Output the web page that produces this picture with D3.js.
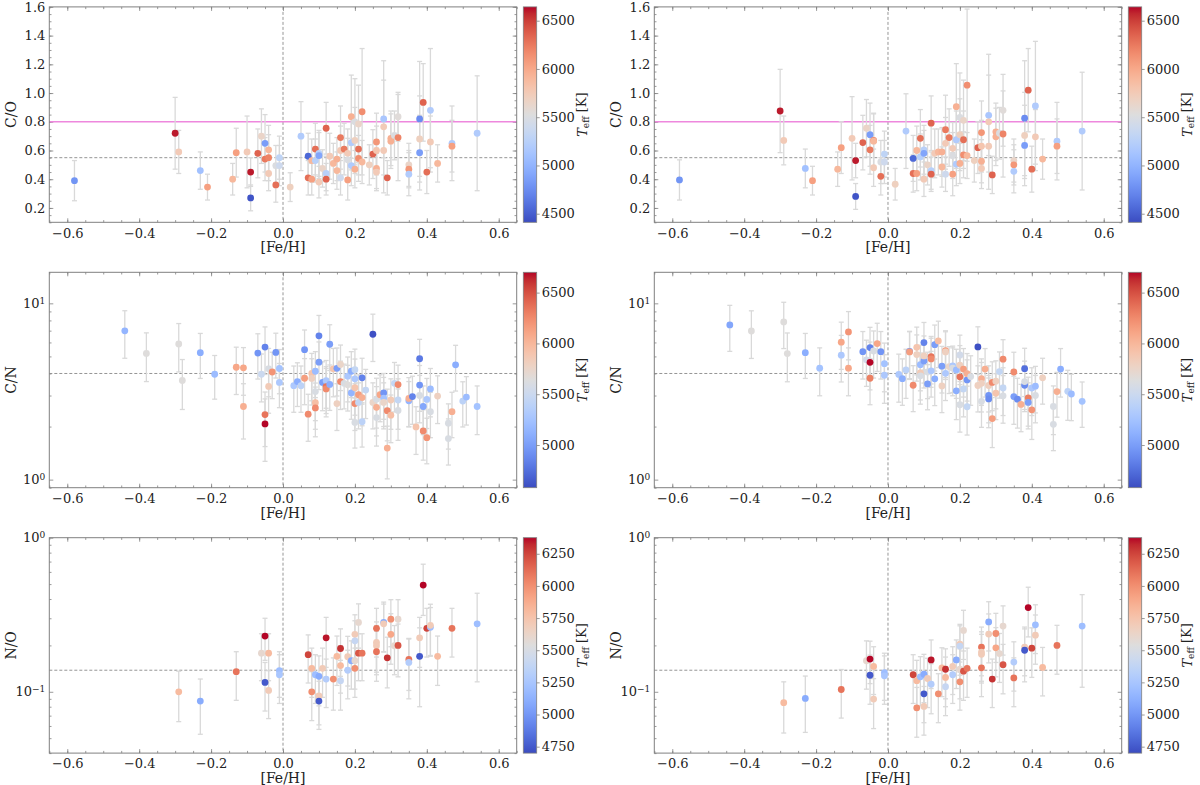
<!DOCTYPE html>
<html>
<head>
<meta charset="utf-8">
<script src="https://cdn.jsdelivr.net/npm/d3@7"></script>
<style>
  body { margin: 0; background: #fff; }
  text { font-family: "DejaVu Serif", serif; fill: #222; }
</style>
</head>
<body>
<script>
// ---------- row 1 : C/O (same stars in both columns) ----------
const fehCO  = [-0.58,-0.30,-0.29,-0.23,-0.21,-0.14,-0.13,-0.10,-0.09,-0.09,-0.07,-0.06,-0.05,-0.05,-0.04,-0.04,-0.04,-0.02,-0.02,-0.01,-0.01,0.02,0.05,0.07,0.07,0.08,0.08,0.09,0.09,0.10,0.10,0.10,0.11,0.12,0.12,0.12,0.13,0.14,0.15,0.15,0.16,0.16,0.16,0.17,0.18,0.18,0.18,0.19,0.19,0.19,0.20,0.20,0.20,0.21,0.21,0.21,0.22,0.22,0.24,0.25,0.26,0.26,0.26,0.26,0.28,0.28,0.28,0.29,0.30,0.30,0.31,0.32,0.32,0.35,0.35,0.35,0.38,0.38,0.38,0.39,0.40,0.41,0.41,0.43,0.47,0.47,0.54];
const teffCO = [4800,6600,5750,5100,6050,5900,6050,5750,6600,4450,6350,5650,4850,6250,6200,5900,5750,6300,5500,5400,5300,5700,5200,4550,6300,6050,5900,6300,5250,5250,4900,5750,5650,6350,5250,6350,5750,5900,5950,5900,6250,5750,5400,6250,5750,5500,6050,5950,5200,5200,5500,5700,5950,5650,6300,6150,6150,5900,5700,6350,6100,5800,5950,5750,5150,5750,5750,6350,5950,5950,5500,5550,6200,5650,6100,5200,4750,5700,4850,6350,6300,5200,5750,5900,5200,6050,5200];
const coLeft = [0.39,0.72,0.59,0.46,0.345,0.40,0.585,0.59,0.45,0.27,0.58,0.70,0.65,0.54,0.55,0.605,0.44,0.36,0.495,0.495,0.55,0.345,0.70,0.56,0.41,0.40,0.53,0.61,0.53,0.58,0.565,0.38,0.475,0.755,0.44,0.40,0.56,0.51,0.54,0.46,0.69,0.60,0.41,0.61,0.58,0.535,0.395,0.835,0.655,0.495,0.80,0.67,0.47,0.785,0.61,0.545,0.87,0.52,0.50,0.575,0.66,0.60,0.475,0.45,0.82,0.765,0.60,0.41,0.685,0.665,0.705,0.835,0.69,0.50,0.47,0.435,0.82,0.68,0.585,0.935,0.45,0.88,0.66,0.51,0.65,0.63,0.72];
const coLeftErr = [0.14,0.25,0.15,0.13,0.09,0.11,0.17,0.25,0.10,0.09,0.17,0.19,0.20,0.15,0.16,0.17,0.12,0.12,0.14,0.14,0.15,0.10,0.24,0.16,0.12,0.11,0.15,0.18,0.15,0.16,0.16,0.11,0.13,0.18,0.12,0.11,0.16,0.14,0.15,0.13,0.22,0.17,0.12,0.18,0.17,0.15,0.14,0.29,0.19,0.14,0.30,0.23,0.13,0.27,0.18,0.16,0.44,0.15,0.14,0.17,0.20,0.17,0.14,0.13,0.27,0.46,0.17,0.12,0.19,0.19,0.17,0.17,0.30,0.15,0.13,0.15,0.40,0.30,0.26,0.27,0.15,0.43,0.18,0.13,0.26,0.18,0.40];
const coRight = [0.395,0.875,0.67,0.475,0.39,0.47,0.62,0.685,0.53,0.28,0.655,0.755,0.71,0.605,0.67,0.665,0.48,0.42,0.52,0.52,0.575,0.365,0.735,0.545,0.44,0.44,0.60,0.685,0.555,0.605,0.58,0.40,0.50,0.79,0.46,0.435,0.58,0.59,0.59,0.485,0.745,0.65,0.435,0.69,0.615,0.565,0.435,0.905,0.675,0.505,0.83,0.71,0.51,0.81,0.675,0.57,1.055,0.565,0.53,0.62,0.725,0.63,0.525,0.475,0.845,0.80,0.63,0.43,0.73,0.695,0.72,0.88,0.715,0.53,0.50,0.455,0.825,0.705,0.635,1.02,0.47,0.91,0.695,0.54,0.665,0.63,0.735];
const coRightErr = [0.14,0.29,0.17,0.135,0.10,0.12,0.18,0.29,0.12,0.09,0.19,0.20,0.22,0.17,0.19,0.19,0.13,0.13,0.15,0.15,0.16,0.11,0.26,0.16,0.13,0.12,0.17,0.20,0.16,0.17,0.16,0.12,0.14,0.19,0.13,0.12,0.17,0.16,0.17,0.14,0.24,0.18,0.12,0.20,0.18,0.16,0.15,0.30,0.20,0.15,0.31,0.25,0.14,0.28,0.20,0.16,0.53,0.16,0.15,0.18,0.22,0.18,0.15,0.14,0.28,0.47,0.18,0.13,0.20,0.20,0.18,0.25,0.30,0.15,0.14,0.15,0.40,0.30,0.28,0.29,0.16,0.45,0.19,0.14,0.27,0.19,0.41];

// ---------- row 2 : C/N ----------
const fehCNLeft  = [-0.44,-0.38,-0.29,-0.28,-0.23,-0.19,-0.13,-0.11,-0.11,-0.07,-0.06,-0.05,-0.05,-0.05,-0.04,-0.04,-0.03,-0.02,-0.01,-0.01,0.03,0.04,0.05,0.06,0.06,0.07,0.08,0.08,0.09,0.09,0.09,0.09,0.10,0.10,0.11,0.12,0.12,0.12,0.13,0.13,0.14,0.15,0.15,0.16,0.16,0.17,0.18,0.18,0.19,0.19,0.20,0.20,0.20,0.20,0.20,0.21,0.21,0.22,0.22,0.22,0.23,0.25,0.25,0.26,0.26,0.26,0.27,0.28,0.28,0.28,0.29,0.29,0.30,0.30,0.31,0.32,0.32,0.32,0.35,0.35,0.36,0.37,0.38,0.38,0.38,0.39,0.39,0.40,0.40,0.41,0.41,0.43,0.46,0.46,0.47,0.48,0.50,0.51,0.54];
const teffCNLeft = [5150,5650,5650,5650,5100,5200,6100,6100,6050,4950,5500,4850,6350,6700,5600,5850,6200,4950,5250,5300,5300,5100,5400,4950,6150,6250,5900,5800,5200,5600,5950,6250,4850,5000,5000,5300,6350,6250,5000,5100,5900,5000,5800,6250,5750,5600,5300,5650,5100,5150,5450,5300,5900,6250,5600,6150,5450,4850,6050,5400,5450,4600,5750,5600,6050,5600,6100,4950,5250,5750,6250,6050,5850,5950,5450,6250,5450,5600,5150,6050,4850,5900,4800,4950,5600,5050,6250,5300,6200,5200,5600,5800,5600,5600,6050,5100,5400,5200,5250];
const cnLeft     = [6.98,5.2,5.88,3.65,5.25,3.96,4.34,4.31,2.6,5.22,3.96,5.65,2.34,2.07,4.25,3.38,4.08,5.27,4.27,3.56,3.41,3.6,3.41,5.46,3.76,2.35,4.0,3.75,4.12,3.16,2.73,2.55,6.54,4.64,3.56,3.64,3.37,3.27,5.86,3.47,4.25,4.28,2.7,3.6,4.5,3.52,3.86,3.45,4.12,3.1,4.2,3.73,3.32,2.7,2.11,3.03,2.74,3.78,2.92,2.13,3.22,6.68,2.74,2.86,2.57,2.25,3.03,3.1,2.9,2.74,2.46,1.51,2.83,2.32,3.52,3.46,2.83,2.47,2.8,2.89,2.96,1.99,4.85,3.44,3.0,2.6,1.89,2.85,1.73,3.27,2.43,2.98,2.09,1.71,2.43,4.48,2.79,2.94,2.6];
const cnLeftErr  = [2.1,1.6,1.8,1.15,1.5,1.1,1.3,1.3,0.9,1.5,1.2,1.7,0.8,0.8,1.3,1.0,1.2,1.5,1.2,1.0,1.0,1.0,1.0,1.6,1.1,0.7,1.2,1.1,1.2,1.0,0.8,0.8,2.0,1.4,1.1,1.1,1.0,1.0,1.7,1.0,1.3,1.3,0.8,1.1,1.3,1.0,1.1,1.0,1.2,0.9,1.3,1.1,1.0,0.8,0.6,0.9,0.8,1.1,0.9,0.6,1.0,2.0,0.8,0.9,0.8,0.7,0.9,0.9,0.9,0.8,0.8,0.5,0.9,0.7,1.1,1.0,0.9,0.8,0.8,0.9,0.9,0.6,1.4,1.0,0.9,0.8,0.6,0.9,0.5,1.0,0.7,0.9,0.6,0.5,0.7,1.3,0.8,0.9,0.8];

const fehCNRight  = [-0.44,-0.38,-0.29,-0.28,-0.23,-0.19,-0.13,-0.13,-0.11,-0.11,-0.07,-0.06,-0.05,-0.05,-0.05,-0.04,-0.03,-0.02,-0.01,-0.01,0.03,0.04,0.05,0.06,0.06,0.07,0.08,0.08,0.09,0.09,0.09,0.10,0.10,0.10,0.11,0.11,0.12,0.12,0.12,0.13,0.13,0.14,0.15,0.15,0.16,0.16,0.16,0.17,0.18,0.18,0.19,0.19,0.20,0.20,0.20,0.20,0.21,0.21,0.22,0.22,0.22,0.23,0.25,0.25,0.26,0.26,0.26,0.27,0.28,0.28,0.28,0.29,0.29,0.30,0.30,0.31,0.32,0.32,0.32,0.35,0.35,0.36,0.37,0.38,0.38,0.38,0.39,0.39,0.40,0.40,0.41,0.41,0.43,0.46,0.46,0.47,0.48,0.50,0.51,0.54];
const teffCNRight = [5050,5650,5650,5650,5100,5250,6100,5300,6200,6100,4950,5550,4850,6700,6300,5600,6100,4950,5250,5300,5300,5100,5400,4950,6150,6250,5900,5800,5200,5850,5600,4850,5000,5800,5000,5600,6350,6250,5300,5000,5100,5950,5000,5800,6150,5800,5300,5750,5300,5600,5100,5200,5550,5800,6350,5600,5450,6150,4950,6050,5450,5600,4600,5800,6050,5800,5600,6050,4950,4900,5800,6250,6150,5800,5900,5450,6250,5450,5600,6250,5000,4900,6050,4750,4900,5600,6300,5000,6200,5300,5200,5600,5800,5600,5600,6050,5100,5400,5200,5250];
const cnRight     = [7.54,6.97,7.84,5.19,5.25,4.29,6.02,5.08,6.88,4.29,5.32,4.78,5.61,4.63,3.76,5.37,5.91,5.32,4.55,3.91,3.95,3.74,4.19,5.34,5.3,3.43,5.63,5.12,4.49,4.03,3.88,5.99,4.71,5.03,3.49,4.08,4.99,4.84,4.14,5.83,3.73,6.12,4.4,3.4,5.39,5.3,4.01,4.38,4.42,4.29,3.19,4.19,5.1,4.46,3.83,2.66,3.27,4.24,3.68,3.99,2.59,3.84,5.66,3.42,3.74,3.52,2.78,4.24,3.0,2.87,3.42,3.56,2.22,3.62,3.09,4.1,4.82,3.31,2.99,4.08,2.96,2.86,2.67,4.26,3.43,3.6,2.91,2.74,2.49,3.31,3.39,3.0,3.78,2.6,2.06,3.16,4.24,3.17,3.06,2.78];
const cnRightErr  = [2.2,2.1,2.3,1.6,1.5,1.3,1.8,1.5,2.1,1.3,1.6,1.4,1.7,1.4,1.1,1.6,1.8,1.6,1.4,1.2,1.2,1.1,1.3,1.6,1.6,1.0,1.7,1.5,1.3,1.2,1.2,1.8,1.4,1.5,1.0,1.2,1.5,1.5,1.2,1.7,1.1,1.8,1.3,1.0,1.6,1.6,1.2,1.3,1.3,1.3,1.0,1.3,1.5,1.3,1.1,0.8,1.0,1.3,1.1,1.2,0.8,1.2,1.7,1.0,1.1,1.1,0.8,1.3,0.9,0.9,1.0,1.1,0.7,1.1,0.9,1.2,1.4,1.0,0.9,1.2,0.9,0.9,0.8,1.3,1.0,1.1,0.9,0.8,0.8,1.0,1.0,0.9,1.1,0.8,0.6,0.9,1.3,1.0,0.9,0.8];

// ---------- row 3 : N/O (same stars in both columns) ----------
const fehNO  = [-0.29,-0.23,-0.13,-0.06,-0.05,-0.05,-0.04,-0.04,-0.01,-0.01,0.07,0.08,0.08,0.09,0.10,0.10,0.10,0.11,0.12,0.12,0.14,0.15,0.16,0.16,0.16,0.18,0.18,0.19,0.20,0.20,0.20,0.20,0.21,0.21,0.22,0.26,0.26,0.26,0.26,0.28,0.28,0.29,0.30,0.30,0.31,0.32,0.32,0.35,0.35,0.38,0.38,0.39,0.40,0.41,0.41,0.43,0.47,0.54];
const teffNO = [5800,5100,6100,5600,6400,4750,5800,5700,5200,5250,6250,5800,6000,5200,5100,5700,4750,5700,6350,5300,6000,5800,6300,5800,5400,5700,5300,5100,5700,5400,5600,6000,5600,6200,6100,6100,5700,5700,6100,5100,5700,6300,6000,5900,5600,5600,6200,6100,5300,5700,4750,6400,6250,5200,5700,5800,6100,5200];
const noLeft = [0.100,0.087,0.135,0.178,0.230,0.115,0.178,0.102,0.137,0.129,0.174,0.142,0.100,0.129,0.126,0.094,0.087,0.142,0.224,0.121,0.121,0.170,0.191,0.148,0.118,0.169,0.138,0.159,0.236,0.214,0.159,0.142,0.282,0.178,0.178,0.258,0.209,0.199,0.182,0.282,0.276,0.166,0.296,0.236,0.199,0.296,0.200,0.162,0.155,0.224,0.170,0.493,0.258,0.262,0.270,0.170,0.258,0.276];
const noLeftErr = [0.036,0.034,0.047,0.06,0.07,0.04,0.06,0.035,0.045,0.045,0.06,0.05,0.035,0.045,0.045,0.033,0.03,0.05,0.08,0.042,0.045,0.06,0.065,0.05,0.042,0.06,0.048,0.055,0.08,0.075,0.055,0.05,0.09,0.06,0.06,0.09,0.075,0.07,0.065,0.10,0.095,0.06,0.10,0.085,0.07,0.10,0.075,0.06,0.065,0.08,0.09,0.18,0.09,0.09,0.10,0.06,0.09,0.16];
const noRight = [0.085,0.0905,0.1035,0.159,0.163,0.128,0.146,0.0897,0.133,0.127,0.129,0.118,0.0787,0.125,0.130,0.0803,0.097,0.122,0.161,0.112,0.097,0.143,0.140,0.124,0.108,0.146,0.129,0.161,0.204,0.198,0.140,0.116,0.250,0.136,0.142,0.195,0.181,0.175,0.143,0.284,0.237,0.121,0.239,0.193,0.177,0.267,0.150,0.123,0.156,0.195,0.186,0.352,0.192,0.272,0.233,0.144,0.200,0.267];
const noRightErr = [0.031,0.036,0.036,0.055,0.05,0.045,0.05,0.032,0.045,0.044,0.045,0.042,0.028,0.044,0.045,0.028,0.034,0.043,0.056,0.04,0.034,0.05,0.05,0.044,0.038,0.05,0.045,0.056,0.07,0.07,0.05,0.04,0.088,0.048,0.05,0.068,0.064,0.061,0.05,0.1,0.083,0.042,0.084,0.068,0.062,0.094,0.053,0.043,0.055,0.068,0.07,0.125,0.068,0.095,0.082,0.05,0.07,0.16];

const fehTicks = [-0.6,-0.4,-0.2,0.0,0.2,0.4,0.6];
const coTicks  = [0.2,0.4,0.6,0.8,1.0,1.2,1.4,1.6];
const cbTicksTop = [4500,5000,5500,6000,6500];
const cbTicksMid = [5000,5500,6000,6500];
const cbTicksBot = [4750,5000,5250,5500,5750,6000,6250];
const solarCO = 0.55, limitCO = 0.8, solarCN = 4.0, solarNO = 0.138;

// matplotlib coolwarm (Moreland table)
const coolwarm = [[59,76,192],[68,90,204],[77,104,215],[87,117,225],[98,130,234],[108,142,241],[119,154,247],[130,165,251],[141,176,254],[152,185,255],[163,194,255],[174,201,253],[184,208,249],[194,213,244],[204,217,238],[213,219,230],[221,221,221],[229,216,209],[236,211,197],[241,204,185],[245,196,173],[247,187,160],[247,177,148],[247,166,135],[244,154,123],[241,141,111],[236,127,99],[229,112,88],[222,96,77],[213,80,66],[203,62,56],[192,40,47],[180,4,38]];
const cwScale = d3.scaleLinear()
  .domain(coolwarm.map((d, i) => i / (coolwarm.length - 1)))
  .range(coolwarm.map(c => d3.rgb(c[0], c[1], c[2]).toString()))
  .clamp(true);

const width = 1200, height = 785;
const axW = 467.4, axH = 215.4;
const colX = [49.3, 654.3];
const rowY = [6.9, 272.3, 537.7];
const spine = "#808080";

const svg = d3.select("body").append("svg")
  .attr("width", width).attr("height", height);

const defs = svg.append("defs");
let gradId = 0;

function styleAxis(g) {
  g.select(".domain").remove();
  g.selectAll(".tick line").attr("stroke", spine).attr("stroke-width", 0.8);
  g.selectAll(".tick text").style("font-size", "13px").attr("fill", "#222");
}

function logLabel(sel) {
  // 10^n labels as real text with superscripts
  sel.selectAll(".tick text").each(function(d) {
    const t = d3.select(this);
    const e = Math.round(Math.log10(d));
    t.text("10");
    t.append("tspan").attr("dy", "-0.5em").style("font-size", "9px")
      .text(e < 0 ? "\u2212" + (-e) : String(e));
  });
}

function panel(opts) {
  const g = svg.append("g").attr("transform", `translate(${opts.x},${opts.y})`);
  const x = d3.scaleLinear().domain([-0.65, 0.65]).range([0, axW]);
  const y = opts.log
    ? d3.scaleLog().domain(opts.ydom).range([axH, 0])
    : d3.scaleLinear().domain(opts.ydom).range([axH, 0]);

  // minor ticks
  const xMinor = d3.range(-0.65, 0.651, 0.05).map(v => +v.toFixed(2));
  let yMinor;
  if (opts.log) {
    yMinor = [];
    for (let e = -2; e <= 1; e++) for (let m = 2; m <= 9; m++) {
      const v = m * Math.pow(10, e);
      if (v >= opts.ydom[0] && v <= opts.ydom[1]) yMinor.push(v);
    }
  } else {
    yMinor = d3.range(0.1, 1.601, 0.05).map(v => +v.toFixed(2));
  }

  g.append("g").attr("transform", `translate(0,${axH})`)
    .call(d3.axisBottom(x).tickValues(xMinor).tickSize(-2.2).tickFormat("")).call(styleAxis);
  g.append("g")
    .call(d3.axisTop(x).tickValues(xMinor).tickSize(-2.2).tickFormat("")).call(styleAxis);
  g.append("g")
    .call(d3.axisLeft(y).tickValues(yMinor).tickSize(-2.2).tickFormat("")).call(styleAxis);
  g.append("g").attr("transform", `translate(${axW},0)`)
    .call(d3.axisRight(y).tickValues(yMinor).tickSize(-2.2).tickFormat("")).call(styleAxis);

  // major ticks
  g.append("g").attr("transform", `translate(0,${axH})`)
    .call(d3.axisBottom(x).tickValues(fehTicks).tickSize(-4).tickPadding(6).tickFormat(d3.format(".1f")))
    .call(styleAxis);
  g.append("g")
    .call(d3.axisTop(x).tickValues(fehTicks).tickSize(-4).tickFormat("")).call(styleAxis);
  const yl = g.append("g")
    .call(d3.axisLeft(y).tickValues(opts.yticks).tickSize(-4).tickPadding(4)
      .tickFormat(opts.log ? (d => d) : d3.format(".1f")))
    .call(styleAxis);
  if (opts.log) logLabel(yl);
  g.append("g").attr("transform", `translate(${axW},0)`)
    .call(d3.axisRight(y).tickValues(opts.yticks).tickSize(-4).tickFormat("")).call(styleAxis);

  // reference lines
  g.append("line").attr("x1", x(0)).attr("x2", x(0)).attr("y1", 0).attr("y2", axH)
    .attr("stroke", "#8a8a8a").attr("stroke-width", 0.9).attr("stroke-dasharray", "3,2");
  g.append("line").attr("x1", 0).attr("x2", axW).attr("y1", y(opts.solar)).attr("y2", y(opts.solar))
    .attr("stroke", "#8a8a8a").attr("stroke-width", 0.9).attr("stroke-dasharray", "3,2");
  if (opts.limit) {
    g.append("line").attr("x1", 0).attr("x2", axW).attr("y1", y(opts.limit)).attr("y2", y(opts.limit))
      .attr("stroke", "#ee88dd").attr("stroke-width", 1.5);
  }

  const pts = opts.feh.map((f, i) => ({f: f, v: opts.val[i], e: opts.err[i], t: opts.teff[i]}));
  const clip = v => Math.max(opts.ydom[0] * 0.5, v);

  // error bars
  const eb = g.append("g").attr("stroke", "#d9d9d9").attr("stroke-width", 1.3);
  eb.selectAll("line.bar").data(pts).enter().append("line")
    .attr("x1", d => x(d.f)).attr("x2", d => x(d.f))
    .attr("y1", d => y(d.v + d.e)).attr("y2", d => Math.min(axH, y(clip(d.v - d.e))));
  eb.selectAll("line.capT").data(pts).enter().append("line")
    .attr("x1", d => x(d.f) - 2.5).attr("x2", d => x(d.f) + 2.5)
    .attr("y1", d => y(d.v + d.e)).attr("y2", d => y(d.v + d.e));
  eb.selectAll("line.capB").data(pts.filter(d => y(clip(d.v - d.e)) <= axH)).enter().append("line")
    .attr("x1", d => x(d.f) - 2.5).attr("x2", d => x(d.f) + 2.5)
    .attr("y1", d => y(d.v - d.e)).attr("y2", d => y(d.v - d.e));

  // points coloured by Teff
  const norm = d3.scaleLinear().domain(opts.tdom).range([0, 1]);
  g.append("g").selectAll("circle").data(pts).enter().append("circle")
    .attr("cx", d => x(d.f)).attr("cy", d => y(d.v)).attr("r", 3.4)
    .attr("fill", d => cwScale(norm(d.t)));

  // frame
  g.append("rect").attr("width", axW).attr("height", axH)
    .attr("fill", "none").attr("stroke", spine).attr("stroke-width", 1);

  // labels
  g.append("text").attr("x", axW / 2).attr("y", axH + 30)
    .attr("text-anchor", "middle").style("font-size", "14px").text("[Fe/H]");
  g.append("text").attr("transform", `translate(-33,${axH / 2}) rotate(-90)`)
    .attr("text-anchor", "middle").style("font-size", "14px").text(opts.ylabel);

  // colorbar
  const cbX = axW + 6.6, cbW = 13.4;
  const id = "cw" + (gradId++);
  const grad = defs.append("linearGradient").attr("id", id)
    .attr("x1", 0).attr("y1", 1).attr("x2", 0).attr("y2", 0);
  coolwarm.forEach((c, i) => {
    grad.append("stop").attr("offset", i / (coolwarm.length - 1))
      .attr("stop-color", d3.rgb(c[0], c[1], c[2]).toString());
  });
  g.append("rect").attr("x", cbX).attr("width", cbW).attr("height", axH)
    .attr("fill", `url(#${id})`).attr("stroke", spine).attr("stroke-width", 0.8);
  const tc = d3.scaleLinear().domain(opts.tdom).range([axH, 0]);
  g.append("g").attr("transform", `translate(${cbX + cbW},0)`)
    .call(d3.axisRight(tc).tickValues(opts.cbticks).tickSize(3).tickPadding(2).tickFormat(d3.format("d")))
    .call(styleAxis);
  const lab = g.append("text")
    .attr("transform", `translate(${cbX + cbW + 50},${axH / 2}) rotate(-90)`)
    .attr("text-anchor", "middle").style("font-size", "13px");
  lab.append("tspan").style("font-style", "italic").text("T");
  lab.append("tspan").attr("dy", "0.3em").style("font-size", "9px").text("eff");
  lab.append("tspan").attr("dy", "-0.3em").text(" [K]");
}

const rows = [
  {ylabel: "C/O", log: false, ydom: [0.1, 1.6], yticks: coTicks, solar: solarCO, limit: limitCO,
   tdom: [4411, 6643], cbticks: cbTicksTop,
   left:  {feh: fehCO, teff: teffCO, val: coLeft, err: coLeftErr},
   right: {feh: fehCO, teff: teffCO, val: coRight, err: coRightErr}},
  {ylabel: "C/N", log: true, ydom: [0.9, 15], yticks: [1, 10], solar: solarCN,
   tdom: [4580, 6700], cbticks: cbTicksMid,
   left:  {feh: fehCNLeft, teff: teffCNLeft, val: cnLeft, err: cnLeftErr},
   right: {feh: fehCNRight, teff: teffCNRight, val: cnRight, err: cnRightErr}},
  {ylabel: "N/O", log: true, ydom: [0.04, 1.0], yticks: [0.1, 1], solar: solarNO,
   tdom: [4700, 6375], cbticks: cbTicksBot,
   left:  {feh: fehNO, teff: teffNO, val: noLeft, err: noLeftErr},
   right: {feh: fehNO, teff: teffNO, val: noRight, err: noRightErr}}
];

rows.forEach((r, ri) => {
  ["left", "right"].forEach((side, ci) => {
    panel(Object.assign({}, r, r[side], {x: colX[ci], y: rowY[ri]}));
  });
});
</script>
</body>
</html>
